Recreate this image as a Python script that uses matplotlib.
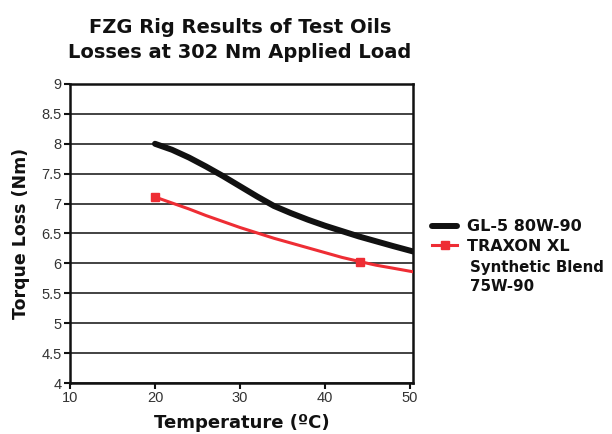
import matplotlib
matplotlib.use("Agg")
import matplotlib.pyplot as plt

# --- data ---
temp_gl5 = [20, 22, 24, 26, 28, 30, 32, 34, 36, 38, 40, 42, 44, 46, 48, 50.35]
loss_gl5 = [8.0, 7.9, 7.77, 7.62, 7.46, 7.29, 7.12, 6.96, 6.84, 6.73, 6.63, 6.54, 6.45, 6.37, 6.29, 6.2]

temp_traxon = [20, 22, 24, 26, 28, 30, 32, 34, 36, 38, 40, 42, 44.1, 46, 48, 50.35]
loss_traxon = [7.11, 7.01, 6.91, 6.8, 6.7, 6.6, 6.51, 6.42, 6.34, 6.26, 6.18, 6.1, 6.03, 5.97, 5.92, 5.86]
traxon_markers = [0, 12]

x_ticks = [10, 20, 30, 40, 50]
y_ticks = [4, 4.5, 5, 5.5, 6, 6.5, 7, 7.5, 8, 8.5, 9]
y_ticklabels = ["4", "4.5", "5", "5.5", "6", "6.5", "7", "7.5", "8", "8.5", "9"]

plt.rcParams["font.family"] = ["Liberation Sans", "DejaVu Sans"]
BOLD = "DejaVu Sans"

fig = plt.figure(figsize=(6.12, 4.34), dpi=100)
ax = fig.add_axes([0.1144, 0.1175, 0.5604, 0.689])

for y in y_ticks:
    ax.axhline(y, color="#222222", linewidth=1.2, zorder=1)

ax.plot(temp_gl5, loss_gl5, color="#111111", linewidth=4.3,
        solid_capstyle="round", label="GL-5 80W-90", zorder=3)
ax.plot(temp_traxon, loss_traxon, color="#ee2d34", linewidth=2.2,
        marker="s", markersize=6, markevery=traxon_markers,
        label="TRAXON XL", zorder=4)

ax.set_xlim(10, 50.35)
ax.set_ylim(4, 9)
ax.set_xticks(x_ticks)
ax.set_yticks(y_ticks)
ax.set_yticklabels(y_ticklabels)
ax.tick_params(axis="both", direction="out", length=4, width=1.5,
               labelsize=10.5, labelcolor="#333333", color="#111111", pad=2)

for side in ["left", "bottom", "right", "top"]:
    ax.spines[side].set_linewidth(1.8)
    ax.spines[side].set_color("#111111")

ax.set_xlabel("Temperature (ºC)", fontsize=13, fontweight="bold",
              family=BOLD, labelpad=6, color="#111111")
ax.set_ylabel("Torque Loss (Nm)", fontsize=12.5, fontweight="bold",
              family=BOLD, labelpad=8, color="#111111")

fig.text(0.392, 0.908, "FZG Rig Results of Test Oils\nLosses at 302 Nm Applied Load",
         ha="center", va="center", fontsize=14, fontweight="bold", family=BOLD,
         linespacing=1.4, color="#111111")

leg = ax.legend(loc="upper left", bbox_to_anchor=(1.055, 0.548), frameon=False,
                prop={"family": BOLD, "weight": "bold", "size": 11.5},
                handlelength=1.6, handletextpad=0.6,
                labelspacing=0.3, borderaxespad=0, borderpad=0)
for t in leg.get_texts():
    t.set_color("#111111")

fig.text(0.768, 0.402, "Synthetic Blend\n75W-90", ha="left", va="top",
         fontsize=10.8, fontweight="bold", family=BOLD, color="#111111",
         linespacing=1.4)

fig.savefig("out.png", dpi=100)
